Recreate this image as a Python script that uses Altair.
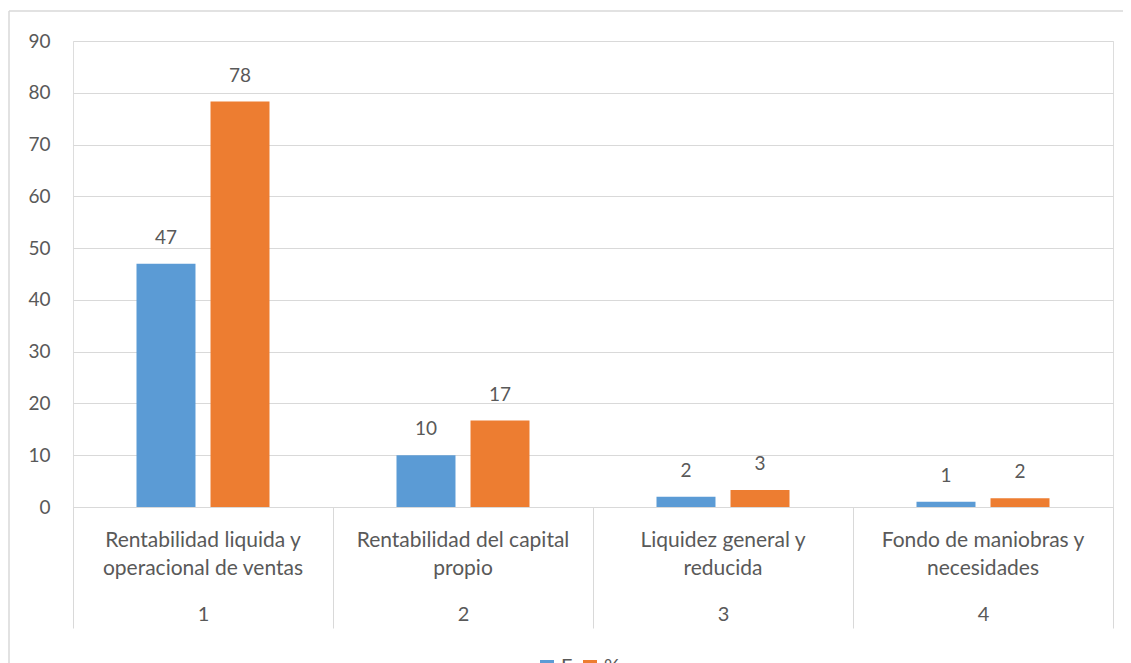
import altair as alt
import pandas as pd

cats = ["1", "2", "3", "4"]
names = [
    "Rentabilidad liquida y\noperacional de ventas",
    "Rentabilidad del capital\npropio",
    "Liquidez general y\nreducida",
    "Fondo de maniobras y\nnecesidades",
]
series = ["F", "%"]
f_vals = [47, 10, 2, 1]
pct_vals = [78.3, 16.7, 3.3, 1.7]
colors = ["#5B9BD5", "#ED7D31"]

rows = []
for c, f, p in zip(cats, f_vals, pct_vals):
    rows.append({"cat": c, "serie": "F", "val": f})
    rows.append({"cat": c, "serie": "%", "val": p})
df = pd.DataFrame(rows)
names_df = pd.DataFrame({"cat": cats, "name": names})
border_df = pd.DataFrame({"a": [0]})

FONT = "Lato"
TXT = "#595959"
GRID = "#D9D9D9"

x_enc = alt.X("cat:N", sort=cats,
              scale=alt.Scale(paddingInner=0, paddingOuter=0),
              axis=alt.Axis(title=None, labelAngle=0, domainColor=GRID, tickColor=GRID,
                            tickBand="extent", tickSize=121, labelPadding=-24,
                            labelFontSize=20, labelColor=TXT, labelFont=FONT, grid=False))
xo_enc = alt.XOffset("serie:N", sort=series,
                     scale=alt.Scale(paddingInner=0.203, paddingOuter=0.858))
y_enc = alt.Y("val:Q", scale=alt.Scale(domain=[0, 90], nice=False),
              axis=alt.Axis(title=None, values=list(range(0, 91, 10)), domain=False, ticks=False,
                            gridColor=GRID, labelPadding=23, labelFontSize=19,
                            labelColor=TXT, labelFont=FONT))

bars = alt.Chart(df).mark_bar().encode(
    x=x_enc, xOffset=xo_enc, y=y_enc,
    color=alt.Color("serie:N", sort=series,
                    scale=alt.Scale(domain=series, range=colors),
                    legend=alt.Legend(title=None, orient="none", legendX=464, legendY=616,
                                      direction="horizontal", symbolType="square",
                                      symbolSize=196, symbolStrokeWidth=0,
                                      labelFontSize=20, labelColor=TXT, labelFont=FONT,
                                      columnPadding=7)),
)

labels = alt.Chart(df).mark_text(baseline="bottom", dy=-16, fontSize=19, font=FONT, color=TXT).encode(
    x=alt.X("cat:N", sort=cats), xOffset=alt.XOffset("serie:N", sort=series), y="val:Q",
    text=alt.Text("val:Q", format=".0f"),
)

cat_names = alt.Chart(names_df).mark_text(baseline="middle", lineBreak="\n", lineHeight=28,
                                          fontSize=21, font=FONT, color=TXT).encode(
    x=alt.X("cat:N", sort=cats), y=alt.value(500), text="name:N",
)

border_top = alt.Chart(border_df).mark_rule(stroke=GRID, strokeWidth=1.5).encode(
    x=alt.value(-64), x2=alt.value(1200), y=alt.value(-30),
)
border_left = alt.Chart(border_df).mark_rule(stroke=GRID, strokeWidth=1.5).encode(
    x=alt.value(-64), y=alt.value(-30), y2=alt.value(700),
)

chart = alt.layer(border_top, border_left, bars, labels, cat_names).properties(
    width=1040, height=466,
    autosize=alt.AutoSizeParams(type="none"),
    padding={"left": 65, "top": 33, "right": 10, "bottom": 180},
).configure_view(stroke=None).configure(background="white")

chart.save("out.html", embed_options={"renderer": "svg", "actions": False})
